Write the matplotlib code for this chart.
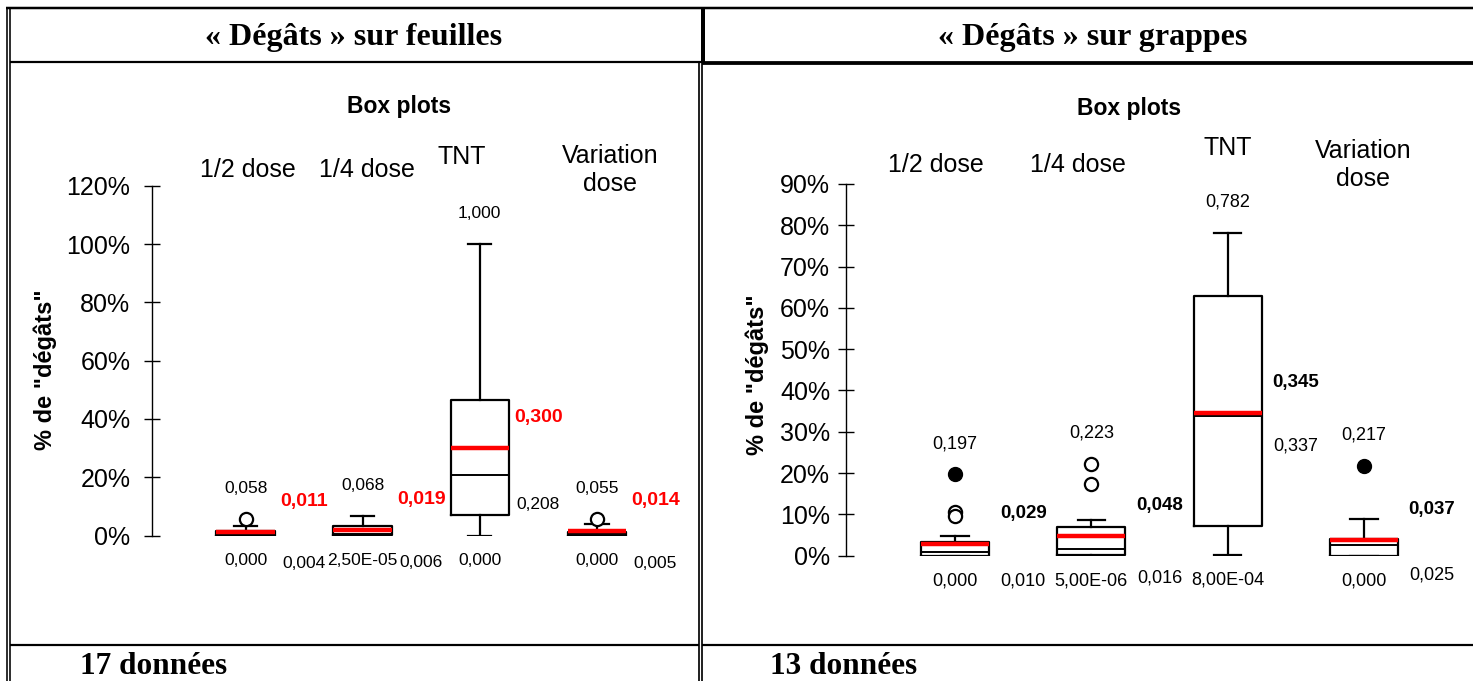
import matplotlib
matplotlib.use("Agg")
import matplotlib.pyplot as plt
from matplotlib.lines import Line2D
from matplotlib.ticker import FuncFormatter

W, H = 1473, 681

categories = ['1/2 dose', '1/4 dose', 'TNT', 'Variation\ndose']

# dégâts sur feuilles (17 données)
f_min = [0.0, 2.5e-05, 0.0, 0.0]
f_q1 = [0.0, 0.0005, 0.072, 0.0]
f_med = [0.004, 0.006, 0.208, 0.005]
f_q3 = [0.015, 0.034, 0.465, 0.013]
f_whishi = [0.034, 0.068, 1.000, 0.039]
f_mean = [0.011, 0.019, 0.300, 0.014]
f_max = [0.058, 0.068, 1.000, 0.055]
f_open = [[0.058], [], [], [0.055]]
f_filled = [[], [], [], []]

# dégâts sur grappes (13 données)
g_min = [0.0, 5.0e-06, 8.0e-04, 0.0]
g_q1 = [0.0, 0.0005, 0.072, 0.0]
g_med = [0.010, 0.016, 0.337, 0.025]
g_q3 = [0.033, 0.070, 0.628, 0.040]
g_whishi = [0.048, 0.086, 0.782, 0.089]
g_mean = [0.029, 0.048, 0.345, 0.037]
g_max = [0.197, 0.223, 0.782, 0.217]
g_open = [[0.106, 0.096], [0.223, 0.174], [], []]
g_filled = [[0.197], [], [], [0.217]]

SANS = 'Liberation Sans'
SERIF = 'Liberation Serif'


def fx(x):
    return x / W


def fy(y):
    return 1 - y / H


def fmt(v):
    if 0 < v < 0.001:
        return f"{v:.2E}".replace('.', ',')
    return f"{v:.3f}".replace('.', ',')


def draw_panel(ax, mins, q1, med, q3, whishi, mean, maxi, opn, fill,
               ymax, step, num_size, mean_color, mean_size, tick_pad):
    pos = [1, 2, 3, 4]
    stats = []
    for i in range(4):
        stats.append(dict(whislo=mins[i], q1=q1[i], med=med[i], q3=q3[i],
                          whishi=whishi[i], mean=mean[i], fliers=[]))
    ax.bxp(stats, positions=pos, widths=0.5, showmeans=True, meanline=True,
           showfliers=False, capwidths=0.2,
           boxprops=dict(color='black', lw=1.6),
           whiskerprops=dict(color='black', lw=1.6),
           capprops=dict(color='black', lw=1.6),
           medianprops=dict(color='black', lw=1.4),
           meanprops=dict(color='red', lw=3.2, linestyle='-'))
    for i in range(4):
        if opn[i]:
            ax.plot([pos[i]] * len(opn[i]), opn[i], 'o', mfc='white',
                    mec='black', mew=1.6, ms=9.5, zorder=5)
        if fill[i]:
            ax.plot([pos[i]] * len(fill[i]), fill[i], 'o', color='black',
                    ms=10, zorder=5)

        kw = dict(textcoords='offset points', ha='center', va='center',
                  fontsize=num_size, family=SANS, annotation_clip=False)
        ax.annotate(fmt(maxi[i]), (pos[i], maxi[i]), xytext=(0, 22), **kw)
        ax.annotate(fmt(mins[i]), (pos[i], mins[i]), xytext=(0, -18), **kw)
        ax.annotate(fmt(med[i]), (pos[i] + 0.5, med[i]), xytext=(0, -21), **kw)
        ax.annotate(fmt(mean[i]), (pos[i] + 0.5, mean[i]),
                    xytext=(0, 22), textcoords='offset points',
                    ha='center', va='center', fontsize=mean_size,
                    fontweight='bold', color=mean_color, family=SANS,
                    annotation_clip=False)

    ax.set_xlim(0.2, 4.8)
    ax.set_ylim(0, ymax)
    n = int(round(ymax / step))
    ax.set_yticks([k * step for k in range(n + 1)])
    ax.yaxis.set_major_formatter(FuncFormatter(lambda v, p: f"{v * 100:.0f}%"))
    ax.tick_params(axis='y', direction='inout', length=11, width=1.0,
                   labelsize=18, pad=tick_pad)
    for lab in ax.get_yticklabels():
        lab.set_family(SANS)
    ax.set_xticks([])
    for s in ['top', 'right', 'bottom']:
        ax.spines[s].set_visible(False)
    ax.spines['left'].set_linewidth(1.0)
    ax.patch.set_visible(False)


fig = plt.figure(figsize=(W / 100, H / 100), dpi=100)

# feuilles: axis spine at x=152 px, 0% at y=535.5, 120% at y=185.7
ax1 = fig.add_axes([fx(152), fy(535.5), 538.5 / W, (535.5 - 185.7) / H])
draw_panel(ax1, f_min, f_q1, f_med, f_q3, f_whishi, f_mean, f_max,
           f_open, f_filled, 1.2, 0.2, 12.5, 'red', 14, 10)

# grappes: axis spine at x=846 px, 0% at y=555.7, 90% at y=183.9
ax2 = fig.add_axes([fx(846), fy(555.7), 627 / W, (555.7 - 183.9) / H])
draw_panel(ax2, g_min, g_q1, g_med, g_q3, g_whishi, g_mean, g_max,
           g_open, g_filled, 0.9, 0.1, 13, 'black', 13.5, 6)

# titles and category labels
fig.text(fx(399), fy(107), 'Box plots', ha='center', va='center',
         fontsize=16.5, fontweight='bold', family=SANS)
fig.text(fx(1129), fy(108), 'Box plots', ha='center', va='center',
         fontsize=16.5, fontweight='bold', family=SANS)

left_cat_xy = [(248, 170), (367, 170), (462, 157), (610, 170)]
right_cat_xy = [(936, 165), (1078, 165), (1228, 148), (1363, 165)]
for name, (x, y) in zip(categories, left_cat_xy):
    fig.text(fx(x), fy(y), name, ha='center', va='center', fontsize=18,
             family=SANS, linespacing=1.2)
for name, (x, y) in zip(categories, right_cat_xy):
    fig.text(fx(x), fy(y), name, ha='center', va='center', fontsize=18,
             family=SANS, linespacing=1.2)

fig.text(fx(45), fy(370), '% de "dégâts"', rotation=90, ha='center',
         va='center', fontsize=17, fontweight='bold', family=SANS)
fig.text(fx(757), fy(375), '% de "dégâts"', rotation=90, ha='center',
         va='center', fontsize=17, fontweight='bold', family=SANS)

# table text
fig.text(fx(354), fy(37), '« Dégâts » sur feuilles', ha='center',
         va='center', fontsize=23, fontweight='bold', family=SERIF)
fig.text(fx(1093), fy(37), '« Dégâts » sur grappes', ha='center',
         va='center', fontsize=23, fontweight='bold', family=SERIF)
fig.text(fx(80), fy(667), '17 données', ha='left', va='center',
         fontsize=22.5, fontweight='bold', family=SERIF)
fig.text(fx(770), fy(667), '13 données', ha='left', va='center',
         fontsize=22.5, fontweight='bold', family=SERIF)


# table borders
def seg(x0, y0, x1, y1, px):
    fig.add_artist(Line2D([fx(x0), fx(x1)], [fy(y0), fy(y1)], color='black',
                          lw=px * 0.72, solid_capstyle='butt'))


seg(6, 8.3, W, 8.3, 2.5)
seg(6.7, 7, 6.7, H, 1.6)
seg(10, 7, 10, H, 1.6)
seg(10, 62.3, 702, 62.3, 2.2)
seg(702, 63.3, W, 63.3, 3.8)
seg(703.3, 7, 703.3, 63, 4)
seg(698.7, 61, 698.7, H, 1.7)
seg(702.2, 61, 702.2, H, 1.7)
seg(10, 644.7, 698.7, 644.7, 2.2)
seg(702.2, 644.7, W, 644.7, 2.2)

fig.savefig('out.png', dpi=100)
